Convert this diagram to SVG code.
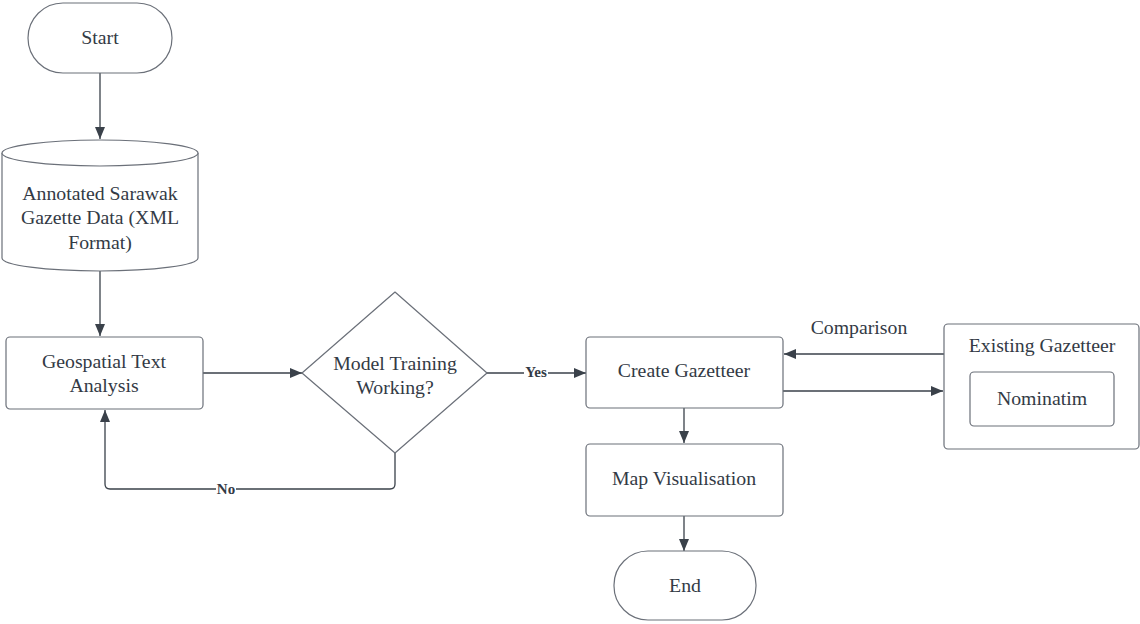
<svg xmlns="http://www.w3.org/2000/svg" width="1140" height="624" viewBox="0 0 1140 624">
<style>
.n{fill:#fff;stroke:#6b7079;stroke-width:1.2}
.t{font-family:"Liberation Serif","DejaVu Serif",serif;font-size:19.8px;fill:#333a45;text-anchor:middle;dominant-baseline:central}
.c{fill:none;stroke:#3a414a;stroke-width:1.3}
.l{font-family:"Liberation Serif","DejaVu Serif",serif;font-size:15px;font-weight:bold;fill:#333a45;text-anchor:middle;dominant-baseline:central}
</style>
<defs>
<marker id="a" viewBox="0 0 12 10" refX="12" refY="5" markerWidth="12" markerHeight="10" markerUnits="userSpaceOnUse" orient="auto">
<path d="M0,0 L12,5 L0,10 Z" fill="#3a414a"/>
</marker>
</defs>
<g id="connectors">
<path class="c" d="M100,73 V139" marker-end="url(#a)"/>
<path class="c" d="M100,270 V336" marker-end="url(#a)"/>
<path class="c" d="M203,373 H302" marker-end="url(#a)"/>
<path class="c" d="M395,453 V484 Q395,489 390,489 H110 Q105,489 105,484 V410" marker-end="url(#a)"/>
<rect x="216" y="481" width="20" height="16" fill="#fff"/>
<text class="l" x="226" y="489">No</text>
<path class="c" d="M487,373 H586" marker-end="url(#a)"/>
<rect x="524" y="365" width="24" height="16" fill="#fff"/>
<text class="l" x="536" y="372">Yes</text>
<path class="c" d="M684,408 V443" marker-end="url(#a)"/>
<path class="c" d="M684,516 V551" marker-end="url(#a)"/>
<path class="c" d="M944,354 H784" marker-end="url(#a)"/>
<path class="c" d="M783,391 H943" marker-end="url(#a)"/>
<text class="t" x="859" y="327">Comparison</text>
</g>
<g id="start">
<rect class="n" x="28" y="3" width="144" height="70" rx="35" ry="35"/>
<text class="t" x="100" y="37">Start</text>
</g>
<g id="data">
<path class="n" d="M2,153 V258 A98,13 0 0 0 198,258 V153 A98,13 0 0 0 2,153 Z"/>
<path class="n" fill="none" d="M2,153 A98,13 0 0 0 198,153"/>
<text class="t" x="100" y="193">Annotated Sarawak</text>
<text class="t" x="100" y="217">Gazette Data (XML</text>
<text class="t" x="100" y="242">Format)</text>
</g>
<g id="geo">
<rect class="n" x="6" y="337" width="197" height="72" rx="4"/>
<text class="t" x="104" y="361">Geospatial Text</text>
<text class="t" x="104" y="385">Analysis</text>
</g>
<g id="decision">
<path class="n" d="M395,292 L487,373 L395,453 L302,373 Z" stroke-linejoin="round"/>
<text class="t" x="395" y="363">Model Training</text>
<text class="t" x="395" y="387">Working?</text>
</g>
<g id="create">
<rect class="n" x="586" y="337" width="197" height="71" rx="4"/>
<text class="t" x="684" y="370">Create Gazetteer</text>
</g>
<g id="map">
<rect class="n" x="586" y="444" width="197" height="72" rx="4"/>
<text class="t" x="684" y="478">Map Visualisation</text>
</g>
<g id="end">
<rect class="n" x="614" y="551" width="142" height="69" rx="34" ry="34"/>
<text class="t" x="685" y="585">End</text>
</g>
<g id="existing">
<rect class="n" x="944" y="324" width="195" height="125" rx="4"/>
<text class="t" x="1042" y="345">Existing Gazetteer</text>
<g id="nominatim">
<rect class="n" x="970" y="372" width="144" height="54" rx="4"/>
<text class="t" x="1042" y="398">Nominatim</text>
</g>
</g>
</svg>
